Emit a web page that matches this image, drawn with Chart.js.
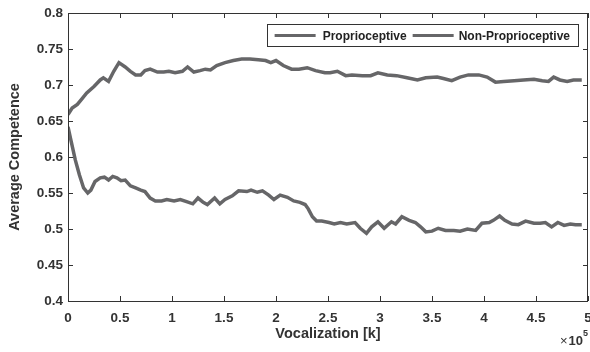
<!DOCTYPE html>
<html>
<head>
<meta charset="utf-8">
<script src="https://cdn.jsdelivr.net/npm/chart.js@4"></script>
<style>
  html, body { margin: 0; padding: 0; background: #fff; }
  #wrap { width: 590px; height: 352px; position: relative; }
</style>
</head>
<body>
<div id="wrap"><canvas id="competenceChart"></canvas></div>
<script>
// data (x in units of 10^5 vocalizations)
const propX = [0,0.04,0.09,0.13,0.18,0.25,0.31,0.34,0.39,0.44,0.49,0.55,0.60,0.65,0.70,0.74,0.79,0.86,0.92,0.97,1.03,1.10,1.15,1.21,1.27,1.32,1.37,1.43,1.51,1.59,1.67,1.75,1.83,1.90,1.95,2.00,2.07,2.15,2.22,2.30,2.38,2.47,2.52,2.59,2.67,2.73,2.83,2.91,2.98,3.07,3.16,3.26,3.36,3.44,3.55,3.61,3.69,3.77,3.85,3.95,4.03,4.11,4.19,4.29,4.38,4.48,4.56,4.62,4.67,4.73,4.80,4.86,4.94]
const propY = [0.659,0.668,0.673,0.680,0.689,0.698,0.707,0.710,0.705,0.719,0.731,0.725,0.719,0.714,0.714,0.720,0.722,0.718,0.718,0.719,0.717,0.719,0.725,0.718,0.720,0.722,0.721,0.727,0.731,0.734,0.736,0.736,0.735,0.734,0.731,0.734,0.727,0.722,0.722,0.724,0.720,0.717,0.717,0.719,0.713,0.714,0.713,0.713,0.717,0.714,0.713,0.710,0.707,0.710,0.711,0.709,0.706,0.711,0.714,0.714,0.711,0.704,0.705,0.706,0.707,0.708,0.706,0.705,0.711,0.707,0.705,0.707,0.707]

const nonPropX = [0,0.03,0.07,0.11,0.15,0.19,0.22,0.26,0.31,0.35,0.39,0.43,0.47,0.51,0.55,0.60,0.65,0.70,0.74,0.79,0.84,0.90,0.95,1.02,1.08,1.14,1.20,1.25,1.30,1.34,1.41,1.46,1.51,1.58,1.64,1.72,1.76,1.82,1.87,1.93,1.98,2.04,2.11,2.17,2.23,2.28,2.31,2.35,2.39,2.44,2.51,2.56,2.62,2.68,2.76,2.81,2.87,2.92,2.98,3.04,3.11,3.15,3.21,3.28,3.34,3.39,3.44,3.50,3.56,3.63,3.71,3.77,3.84,3.92,3.98,4.05,4.09,4.15,4.20,4.27,4.33,4.40,4.48,4.54,4.59,4.65,4.71,4.77,4.83,4.88,4.94]
const nonPropY = [0.642,0.622,0.596,0.575,0.557,0.550,0.554,0.566,0.571,0.572,0.568,0.573,0.571,0.567,0.568,0.560,0.557,0.554,0.552,0.543,0.539,0.539,0.541,0.539,0.541,0.538,0.535,0.543,0.537,0.534,0.543,0.535,0.541,0.546,0.553,0.552,0.554,0.551,0.553,0.547,0.541,0.547,0.544,0.539,0.537,0.534,0.528,0.517,0.511,0.511,0.509,0.507,0.509,0.507,0.509,0.501,0.494,0.503,0.510,0.501,0.510,0.507,0.517,0.512,0.509,0.503,0.496,0.497,0.501,0.498,0.498,0.497,0.500,0.498,0.508,0.509,0.512,0.518,0.512,0.507,0.506,0.511,0.508,0.508,0.509,0.503,0.509,0.505,0.507,0.506,0.506]

const seriesLabels = ['Proprioceptive', 'Non-Proprioceptive']
const xTitle = 'Vocalization [k]'
const yTitle = 'Average Competence'
const xExponent = '5'

const lineColor = 'rgb(102, 102, 104)'
const axisColor = '#333'
const fontFamily = '"Liberation Sans", Arial, Helvetica, sans-serif'

function toPoints(xs, ys) {
  return xs.map((x, i) => ({ x: x, y: ys[i] }))
}

// box, inward ticks, legend and x10^5 label, MATLAB style
const matlabAxes = {
  id: 'matlabAxes',
  afterDraw(chart) {
    const ctx = chart.ctx
    const a = chart.chartArea
    const xs = chart.scales.x
    const ys = chart.scales.y
    ctx.save()
    ctx.strokeStyle = axisColor
    ctx.lineWidth = 1
    ctx.strokeRect(a.left + 0.5, a.top + 0.5, a.right - a.left - 1, a.bottom - a.top)
    const tl = 5
    ctx.beginPath()
    xs.ticks.forEach(t => {
      const px = Math.round(xs.getPixelForValue(t.value)) + 0.5
      ctx.moveTo(px, a.bottom); ctx.lineTo(px, a.bottom - tl)
      ctx.moveTo(px, a.top); ctx.lineTo(px, a.top + tl)
    })
    ys.ticks.forEach(t => {
      const py = Math.round(ys.getPixelForValue(t.value)) + 0.5
      ctx.moveTo(a.left, py); ctx.lineTo(a.left + tl, py)
      ctx.moveTo(a.right, py); ctx.lineTo(a.right - tl, py)
    })
    ctx.stroke()

    // legend
    ctx.font = 'bold 12px ' + fontFamily
    const sample = 41
    const w1 = ctx.measureText(seriesLabels[0]).width
    const w2 = ctx.measureText(seriesLabels[1]).width
    const boxRight = a.right - 10
    const boxTop = a.top + 11
    const boxH = 22
    const boxW = 8 + sample + 7 + w1 + 6 + sample + 5 + w2 + 8
    const boxLeft = boxRight - boxW
    ctx.fillStyle = '#fff'
    ctx.fillRect(boxLeft, boxTop, boxW, boxH)
    ctx.strokeStyle = axisColor
    ctx.lineWidth = 1
    ctx.strokeRect(Math.round(boxLeft) + 0.5, boxTop + 0.5, Math.round(boxW), boxH)
    const cy = boxTop + boxH / 2 + 0.5
    let x = boxLeft + 8
    ctx.strokeStyle = lineColor
    ctx.lineWidth = 3
    ctx.beginPath(); ctx.moveTo(x, cy); ctx.lineTo(x + sample, cy); ctx.stroke()
    x += sample + 7
    ctx.fillStyle = '#222'
    ctx.textBaseline = 'middle'
    ctx.fillText(seriesLabels[0], x, cy + 1)
    x += w1 + 6
    ctx.beginPath(); ctx.moveTo(x, cy); ctx.lineTo(x + sample, cy); ctx.stroke()
    x += sample + 5
    ctx.fillText(seriesLabels[1], x, cy + 1)

    // exponent label
    ctx.fillStyle = axisColor
    ctx.textBaseline = 'alphabetic'
    ctx.font = 'bold 9px ' + fontFamily
    const we = ctx.measureText(xExponent).width
    ctx.fillText(xExponent, 588 - we, 336)
    ctx.font = 'bold 13px ' + fontFamily
    const wt = ctx.measureText('10').width
    ctx.fillText('10', 588 - we - wt, 345)
    ctx.font = '13px ' + fontFamily
    const wx = ctx.measureText('\u00d7').width
    ctx.fillText('\u00d7', 588 - we - wt - wx - 1, 345)
    ctx.restore()
  }
}

const data = {
  datasets: [{
    label: seriesLabels[0],
    data: toPoints(propX, propY),
    borderColor: lineColor,
    borderWidth: 3.5,
    pointRadius: 0,
    tension: 0
  }, {
    label: seriesLabels[1],
    data: toPoints(nonPropX, nonPropY),
    borderColor: lineColor,
    borderWidth: 3.5,
    pointRadius: 0,
    tension: 0
  }]
}

const config = {
  type: 'line',
  data: data,
  options: {
    responsive: true,
    maintainAspectRatio: false,
    animation: false,
    layout: { padding: { top: 13, right: 2, left: 0, bottom: 0 } },
    plugins: {
      legend: { display: false },
      tooltip: { enabled: false }
    },
    scales: {
      x: {
        type: 'linear',
        min: 0,
        max: 5,
        grid: { display: false, drawTicks: false },
        border: { display: false },
        ticks: {
          stepSize: 0.5,
          padding: 9,
          color: axisColor,
          font: { family: fontFamily, size: 13.5, weight: 'bold' },
          maxRotation: 0,
          autoSkip: false,
          callback: v => String(Number(v.toFixed(2)))
        },
        title: {
          display: true,
          text: xTitle,
          color: axisColor,
          padding: { top: 2, bottom: 9 },
          font: { family: fontFamily, size: 14.5, weight: 'bold' }
        },
        afterFit: s => { s.height = 51; s.paddingLeft = 0; s.paddingRight = 0 }
      },
      y: {
        min: 0.4,
        max: 0.8,
        grid: { display: false, drawTicks: false },
        border: { display: false },
        ticks: {
          stepSize: 0.05,
          padding: 5,
          color: axisColor,
          font: { family: fontFamily, size: 13.5, weight: 'bold' },
          callback: v => String(Number(v.toFixed(2)))
        },
        title: {
          display: true,
          text: yTitle,
          color: axisColor,
          padding: { top: 6, bottom: 4 },
          font: { family: fontFamily, size: 14.5, weight: 'bold' }
        },
        afterFit: s => { s.width = 68; s.paddingTop = 0; s.paddingBottom = 0 }
      }
    }
  },
  plugins: [matlabAxes]
}

const competenceChart = new Chart(
  document.querySelector('#competenceChart'),
  config
)
</script>
</body>
</html>
